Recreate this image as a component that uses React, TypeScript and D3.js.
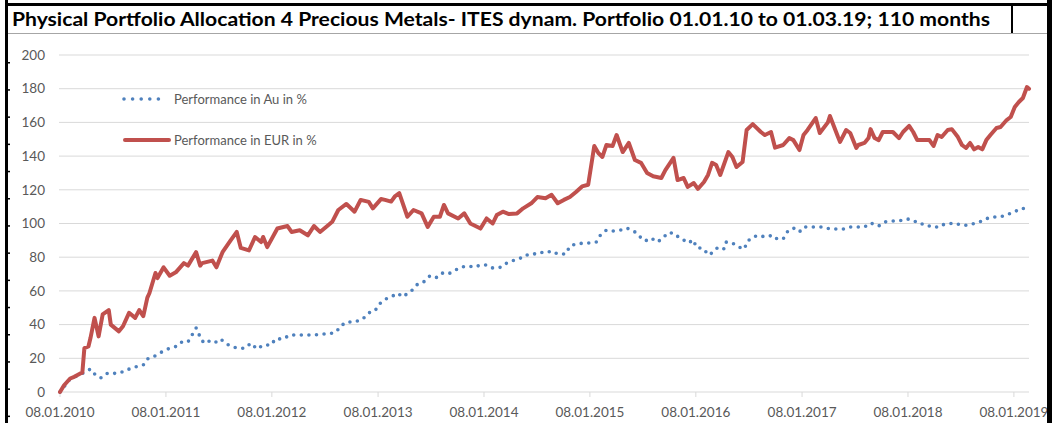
import React from "react";
import * as d3 from "d3";

// weekly series (week index since 08.01.2010)
const redWeeks = [
  0, 2, 5, 7, 10, 11, 12, 14, 15, 17, 19, 21, 24, 25, 29, 31, 34, 37, 39, 41,
  43, 44, 47, 48, 51, 54, 57, 61, 63, 67, 69, 70, 75, 77, 80, 84, 87, 89, 93, 96,
  99, 100, 102, 107, 112, 114, 118, 122, 125, 128, 132, 134, 137, 141, 145, 148, 152, 154, 158, 160,
  163, 165, 167, 171, 174, 178, 181, 184, 187, 189, 191, 196, 199, 202, 207, 210, 213, 215, 218, 221,
  225, 228, 232, 235, 239, 242, 245, 248, 251, 254, 257, 260, 263, 265, 267, 269, 272, 274, 277, 280,
  283, 286, 289, 292, 296, 298, 302, 304, 307, 309, 312, 314, 317, 319, 321, 323, 325, 329, 331, 333,
  336, 338, 341, 345, 347, 350, 352, 356, 359, 361, 364, 366, 368, 372, 374, 378, 379, 383, 384, 387,
  389, 392, 393, 396, 398, 399, 401, 403, 405, 410, 413, 415, 418, 420, 422, 425, 428, 430, 432, 434,
  437, 439, 442, 444, 446, 448, 450, 452, 454, 456, 458, 461, 463, 466, 468, 470, 472, 474, 476, 477,
];
const redValues = [
  0, 4, 8, 9, 11, 11.5, 26, 27, 32, 44, 33, 46, 48.6, 40, 36, 39, 47, 44, 48.6, 45,
  56, 58.6, 70.6, 67.6, 74, 69, 71, 76.5, 75, 83, 75, 76.5, 78, 74, 83, 90, 95, 85.5, 84, 92,
  89, 92, 86, 97, 98.5, 95, 96, 93, 98.5, 95, 99, 101, 108, 111.6, 107, 114, 112.8, 109, 114.5, 114,
  113, 116.3, 118, 104, 108, 106, 98, 104, 104, 111, 106, 103, 106, 100, 97, 103, 100, 105, 107, 105.6,
  106, 109, 112, 115.7, 115, 117, 112, 114, 115.7, 118.7, 122, 123, 146, 141.8, 139.5, 146.6, 146, 152.5, 142.4, 147.8,
  137.7, 136, 130, 128, 127, 131.7, 138.9, 125.8, 127, 121.7, 124, 120.5, 124.6, 128.8, 136, 134.7, 128.8, 142.4, 139.5, 133.5,
  136.5, 155.5, 159, 154.3, 152.5, 154.3, 145, 146.6, 150.7, 149.5, 143.6, 152.5, 155.5, 162.6, 153.7, 160, 163.8, 151.3, 148.4, 155.5,
  153.7, 144.8, 146.6, 147.8, 150.7, 156, 150.7, 149.5, 154.3, 154.3, 150.7, 154.3, 157.9, 154.3, 149.5, 149.5, 149.5, 146, 152.5, 151.3,
  155.5, 156, 151.3, 146.6, 144.8, 147.8, 144, 145.4, 144, 149.5, 152.5, 156.7, 157.3, 161.4, 163.2, 169.1, 172.1, 174.5, 181, 180,
];

const auWeeks = [
  0, 5, 11, 15, 17, 20, 23, 26, 29, 31, 34, 37, 41, 43, 46, 48, 51, 54, 58, 60,
  63, 65, 67, 68, 69, 71, 73, 76, 79, 82, 85, 88, 91, 94, 97, 100, 104, 106, 110, 113,
  117, 121, 125, 129, 132, 136, 138, 141, 145, 149, 152, 155, 157, 160, 163, 166, 169, 171, 174, 176,
  179, 182, 185, 188, 191, 194, 197, 201, 204, 207, 210, 213, 217, 219, 222, 226, 229, 232, 236, 239,
  242, 245, 249, 251, 254, 258, 261, 264, 266, 269, 272, 276, 279, 283, 285, 288, 291, 294, 297, 299,
  302, 305, 307, 309, 312, 313, 317, 319, 321, 324, 327, 328, 331, 334, 337, 338, 341, 344, 347, 351,
  353, 356, 358, 361, 364, 366, 370, 373, 376, 379, 383, 386, 389, 392, 396, 399, 403, 406, 409, 413,
  417, 420, 423, 426, 429, 432, 433, 437, 440, 444, 447, 451, 454, 457, 460, 463, 467, 470, 472, 476,
];
const auValues = [
  0, 7.7, 11, 13.6, 10.7, 8.3, 11, 10.7, 11.9, 11.9, 13.6, 14.8, 16, 19.6, 20.8, 22.5, 24.3, 26, 27.3, 29.7,
  29.7, 33.8, 38, 36, 32, 29, 30.3, 29, 31.5, 28.5, 26.7, 26, 26, 29, 25.5, 27.9, 27.9, 31.5, 31.5, 33.8,
  33.8, 33.8, 33.8, 34.4, 34.4, 35.6, 39, 41.5, 41.5, 43.3, 47, 48, 52, 55, 56.4, 58.6, 56.4, 58.6, 61, 64,
  65.3, 68.8, 67.7, 70.6, 70, 71.8, 74, 74.8, 74, 75.4, 75.4, 73.6, 74, 75.9, 77.7, 78.9, 81.3, 81.3, 83, 82.5,
  83.7, 81.9, 81.9, 86.6, 87.8, 88.4, 88.4, 89, 93, 96.1, 95.5, 96.1, 97.3, 95, 92.6, 89.6, 91.4, 89, 91.4, 94.4,
  94.4, 91.4, 90.2, 88.4, 90.2, 86, 84.9, 81.3, 82.5, 86, 84.9, 89, 88.4, 86, 84.9, 89, 92, 93, 92, 93,
  90.8, 90.8, 95, 97.3, 95, 97.9, 97.9, 97.9, 97.9, 96.7, 96.7, 96.7, 97.9, 97.9, 97.9, 100.3, 98.5, 100.9, 101.5, 101.5,
  102.7, 102, 99.7, 99.7, 97.9, 97.9, 99, 99.7, 100.3, 99, 99, 100.3, 101.5, 103.3, 103.9, 103.9, 105.6, 106.8, 108.6, 109.2,
];

const xTickLabels = [
  "08.01.2010", "08.01.2011", "08.01.2012", "08.01.2013", "08.01.2014",
  "08.01.2015", "08.01.2016", "08.01.2017", "08.01.2018", "08.01.2019",
];
const yTicks = [0, 20, 40, 60, 80, 100, 120, 140, 160, 180, 200];

const title =
  "Physical Portfolio Allocation 4 Precious Metals- ITES dynam. Portfolio 01.01.10 to 01.03.19; 110 months";
const seriesNames = ["Performance in Au in %", "Performance in EUR in %"];

const W = 1052;
const H = 423;
const RED = "#C0504D";
const BLUE = "#4F81BD";
const GRID = "#D9D9D9";
const TEXT = "#595959";
const FONT = "Lato, 'Open Sans', sans-serif";

const parse = d3.timeParse("%d.%m.%Y");
const start = parse("08.01.2010") as Date;
const end = parse("01.03.2019") as Date;
const weekDate = (w: number) => d3.timeDay.offset(start, w * 7);

export default function App() {
  const x = d3.scaleTime().domain([start, end]).range([60, 1029]);
  const y = d3.scaleLinear().domain([0, 200]).range([392, 55]);

  const line = d3
    .line<[number, number]>()
    .x((d) => x(weekDate(d[0])))
    .y((d) => y(d[1]));

  const red = line(redWeeks.map((w, i) => [w, redValues[i]]));
  const au = line(auWeeks.map((w, i) => [w, auValues[i]]));

  // row notches on the left frame edge
  const notches = d3.range(62, H, 27.2);

  return (
    <svg
      width={W}
      height={H}
      style={{ position: "absolute", left: 0, top: 0, background: "#fff" }}
      fontFamily={FONT}
    >
      {/* title cell */}
      <text x={12} y={26} fontSize={18.5} fontWeight="bold" fill="#000"
        textLength={978} lengthAdjust="spacingAndGlyphs">
        {title}
      </text>
      <line x1={8} x2={1048} y1={33.5} y2={33.5} stroke="#A6A6A6" strokeWidth={1} />
      <line x1={1012} x2={1012} y1={5} y2={33} stroke="#000" strokeWidth={2} />

      {/* grid + y axis */}
      {yTicks.map((t) => (
        <g key={t}>
          <line x1={59} x2={1029} y1={y(t)} y2={y(t)} stroke={GRID} strokeWidth={1} />
          <text x={45} y={y(t)} dy="0.35em" textAnchor="end" fontSize={13.5} fill={TEXT}>
            {t}
          </text>
        </g>
      ))}

      {/* x axis ticks */}
      {xTickLabels.map((l) => {
        const px = x(parse(l) as Date);
        return (
          <g key={l}>
            <line x1={px} x2={px} y1={392} y2={397} stroke={GRID} strokeWidth={1} />
            <text x={px} y={417} textAnchor="middle" fontSize={13.5} fill={TEXT}>
              {l}
            </text>
          </g>
        );
      })}

      {/* series */}
      <path d={au ?? ""} fill="none" stroke={BLUE} strokeWidth={3.6}
        strokeDasharray="0 7.6" strokeLinecap="round" strokeLinejoin="round" />
      <path d={red ?? ""} fill="none" stroke={RED} strokeWidth={4}
        strokeLinecap="round" strokeLinejoin="round" />

      {/* legend */}
      <line x1={124} x2={167} y1={99} y2={99} stroke={BLUE} strokeWidth={3.6}
        strokeDasharray="0 8.6" strokeLinecap="round" />
      <text x={174} y={99} dy="0.35em" fontSize={13} fill={TEXT}>{seriesNames[0]}</text>
      <line x1={125} x2={169} y1={140} y2={140} stroke={RED} strokeWidth={4} strokeLinecap="round" />
      <text x={174} y={140} dy="0.35em" fontSize={13} fill={TEXT}>{seriesNames[1]}</text>

      {/* sheet frame */}
      <rect x={5} y={0} width={3} height={H} fill="#000" />
      <rect x={5} y={3} width={1047} height={3} fill="#000" />
      <rect x={1047} y={0} width={5} height={H} fill="#000" />
      {notches.map((n) => (
        <rect key={n} x={8} y={n} width={2} height={1.5} fill="#000" />
      ))}
    </svg>
  );
}
